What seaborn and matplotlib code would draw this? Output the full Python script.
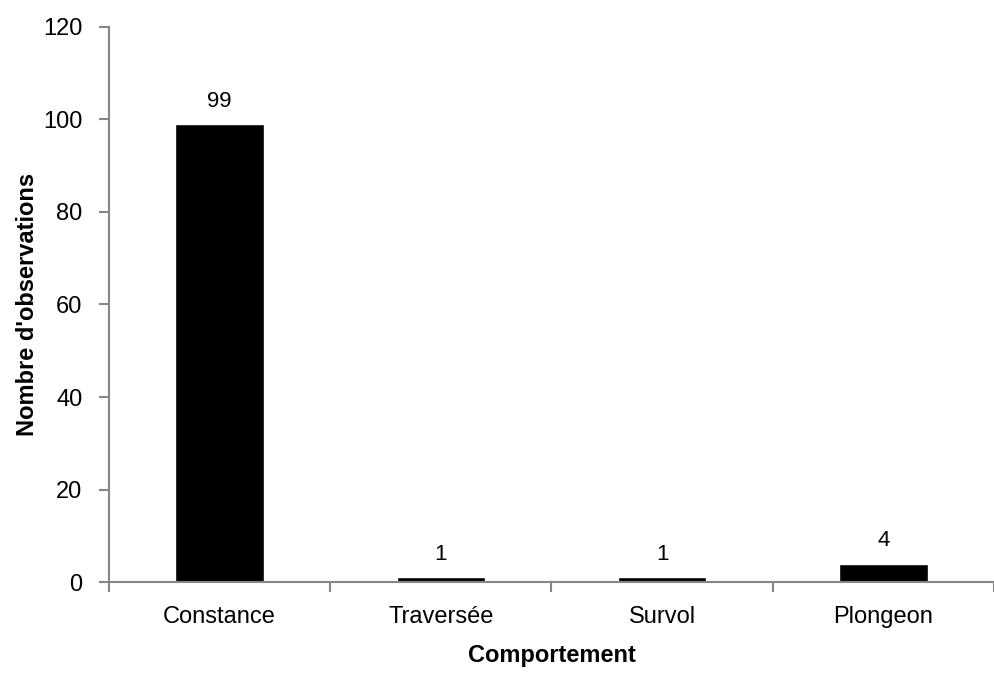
import seaborn as sns
import matplotlib.pyplot as plt
from matplotlib import font_manager

comportements = ['Constance', 'Traversée', 'Survol', 'Plongeon']
observations = [99, 1, 1, 4]

sns.set_style('white')
names = {f.name for f in font_manager.fontManager.ttflist}
narrow = 'Liberation Sans Narrow' if 'Liberation Sans Narrow' in names else 'Liberation Sans'
plt.rcParams['font.family'] = [narrow, 'DejaVu Sans']
plt.rcParams['text.color'] = 'black'
plt.rcParams['axes.labelcolor'] = 'black'
plt.rcParams['xtick.labelcolor'] = 'black'
plt.rcParams['ytick.labelcolor'] = 'black'

fig = plt.figure(figsize=(9.95, 6.73), dpi=100)
ax = fig.add_axes([0.1095, 0.1352, 0.8895, 0.8247])

sns.barplot(x=comportements, y=observations, color='black', width=0.4,
            saturation=1, ax=ax)

for i, v in enumerate(observations):
    ax.annotate(str(v), (i, v), xytext=(0, 9), textcoords='offset points',
                ha='center', va='bottom', fontsize=16)

ax.set_ylim(0, 120)
ax.set_xlim(-0.5, len(comportements) - 0.5)
ax.set_yticks(range(0, 121, 20))

# ticks between categories on the x axis
ax.set_xticks([i - 0.5 for i in range(len(comportements) + 1)], minor=True)
ax.tick_params(axis='x', which='major', length=0, labelsize=17, pad=17)
ax.tick_params(axis='x', which='minor', length=7, width=1.5, color='#868686',
               direction='out', bottom=True)
ax.tick_params(axis='y', length=7, width=1.5, color='#868686', direction='out',
               left=True, labelsize=17, pad=12)

for side in ['top', 'right']:
    ax.spines[side].set_visible(False)
for side in ['left', 'bottom']:
    ax.spines[side].set_color('#868686')
    ax.spines[side].set_linewidth(1.5)

ax.set_xlabel('Comportement', fontsize=17, fontweight='bold', labelpad=12)
ax.set_ylabel("Nombre d'observations", fontsize=17, fontweight='bold', labelpad=3)

fig.savefig('out.png', dpi=100)
